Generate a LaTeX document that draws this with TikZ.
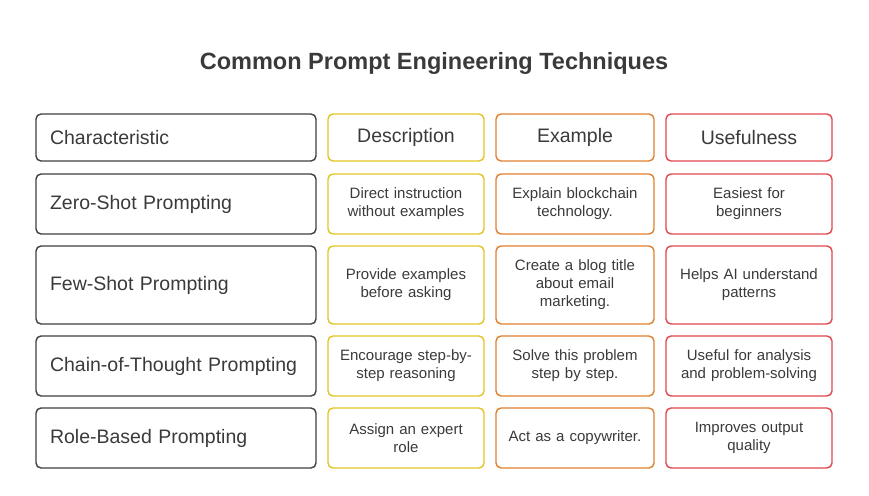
\documentclass[tikz,border=0pt]{standalone}
\usepackage{fontspec}
\setmainfont{Liberation Sans}
\usepackage{tikz}
\definecolor{darkline}{HTML}{3F3F3F}
\definecolor{yelline}{HTML}{E2C524}
\definecolor{oraline}{HTML}{E07F2E}
\definecolor{redline}{HTML}{E0474C}
\definecolor{txt}{HTML}{3A3A3A}
\tikzstyle{cell}=[draw,line width=1.4pt,rounded corners=5pt,inner sep=0pt,text=txt,align=center,font=\fontsize{15pt}{18pt}\selectfont]
\tikzstyle{name cell}=[cell,draw=darkline,minimum width=280pt,text width=252pt,align=left,font=\fontsize{19.5pt}{22pt}\selectfont]
\tikzstyle{desc cell}=[cell,draw=yelline,minimum width=156pt,text width=150pt]
\tikzstyle{ex cell}=[cell,draw=oraline,minimum width=158pt,text width=152pt]
\tikzstyle{use cell}=[cell,draw=redline,minimum width=166pt,text width=160pt]
\tikzstyle{head}=[font=\fontsize{19.5pt}{22pt}\selectfont]
\begin{document}
\begin{tikzpicture}[x=1pt,y=1pt]
        \useasboundingbox (0,0) rectangle (869,495);
        \node[font=\bfseries\fontsize{23.5pt}{26pt}\selectfont,text=txt] (title) at (434,432) {Common Prompt Engineering Techniques};
        % header row
        \node[name cell,minimum height=47pt] (h1) at (176,357.5) {Characteristic};
        \node[desc cell,head,minimum height=47pt] (h2) at (406,357.5) {Description};
        \node[ex cell,head,minimum height=47pt] (h3) at (575,357.5) {Example};
        \node[use cell,head,minimum height=47pt] (h4) at (749,357.5) {Usefulness};
        % zero-shot
        \node[name cell,minimum height=60pt] (z1) at (176,291) {Zero-Shot Prompting};
        \node[desc cell,minimum height=60pt] (z2) at (406,291) {Direct instruction\\without examples};
        \node[ex cell,minimum height=60pt] (z3) at (575,291) {Explain blockchain\\technology.};
        \node[use cell,minimum height=60pt] (z4) at (749,291) {Easiest for\\beginners};
        % few-shot
        \node[name cell,minimum height=78pt] (f1) at (176,210) {Few-Shot Prompting};
        \node[desc cell,minimum height=78pt] (f2) at (406,210) {Provide examples\\before asking};
        \node[ex cell,minimum height=78pt] (f3) at (575,210) {Create a blog title\\about email\\marketing.};
        \node[use cell,minimum height=78pt] (f4) at (749,210) {Helps AI understand\\patterns};
        % chain-of-thought
        \node[name cell,minimum height=60pt] (c1) at (176,129) {Chain-of-Thought Prompting};
        \node[desc cell,minimum height=60pt] (c2) at (406,129) {Encourage step-by-\\step reasoning};
        \node[ex cell,minimum height=60pt] (c3) at (575,129) {Solve this problem\\step by step.};
        \node[use cell,minimum height=60pt] (c4) at (749,129) {Useful for analysis\\and problem-solving};
        % role-based
        \node[name cell,minimum height=60pt] (r1) at (176,57) {Role-Based Prompting};
        \node[desc cell,minimum height=60pt] (r2) at (406,57) {Assign an expert\\role};
        \node[ex cell,minimum height=60pt] (r3) at (575,57) {Act as a copywriter.};
        \node[use cell,minimum height=60pt] (r4) at (749,57) {Improves output\\quality};
      \end{tikzpicture}
\end{document}
